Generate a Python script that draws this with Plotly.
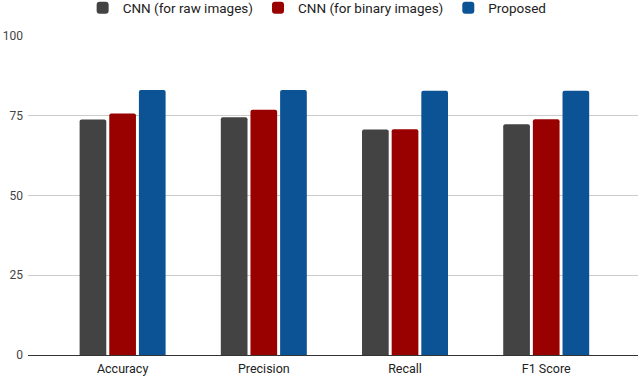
import plotly.graph_objects as go

metrics = ['Accuracy', 'Precision', 'Recall', 'F1 Score']
cnn_raw = [73.8, 74.5, 70.7, 72.3]
cnn_binary = [75.7, 76.9, 70.8, 73.9]
proposed = [83.1, 83.1, 82.8, 82.8]

series = [
    ('CNN (for raw images)', cnn_raw, '#434343'),
    ('CNN (for binary images)', cnn_binary, '#990000'),
    ('Proposed', proposed, '#0b5394'),
]

fig = go.Figure()
for name, vals, color in series:
    fig.add_trace(go.Bar(
        x = metrics,
        y = vals,
        name = name,
        marker = dict(color = color, cornerradius = 2, line = dict(width = 0))))

fig.update_layout(
    width = 640,
    height = 378,
    barmode = 'group',
    bargap = 0.37,
    bargroupgap = 0.1,
    plot_bgcolor = 'white',
    paper_bgcolor = 'white',
    font = dict(family = 'Roboto, Arial, sans-serif', size = 12, color = '#222222'),
    margin = dict(l = 28, r = 2, t = 36, b = 23),
    legend = dict(
        orientation = 'h',
        x = 0.474, xanchor = 'center',
        yref = 'container', y = 0.979, yanchor = 'middle',
        font = dict(size = 13.5, color = '#222222'),
        itemwidth = 30,
        traceorder = 'normal'),
    showlegend = True)

fig.update_xaxes(
    range = [-0.67, 3.65],
    showgrid = False,
    showline = False,
    ticks = '',
    automargin = False,
    ticklabelstandoff = 4,
    tickfont = dict(size = 12.5, color = '#222222'))

fig.update_yaxes(
    range = [0, 100],
    tickvals = [0, 25, 50, 75, 100],
    showgrid = True,
    gridcolor = '#cccccc',
    gridwidth = 1,
    zeroline = True,
    zerolinecolor = '#333333',
    zerolinewidth = 1,
    ticks = '',
    automargin = False,
    tickfont = dict(size = 12, color = '#444444'),
    ticklabelstandoff = 4)

# drop the default body margin so the figure sits at the window corner
fig.write_html("out.html", config = dict(displayModeBar = False),
               post_script = "document.body.style.margin='0';")
